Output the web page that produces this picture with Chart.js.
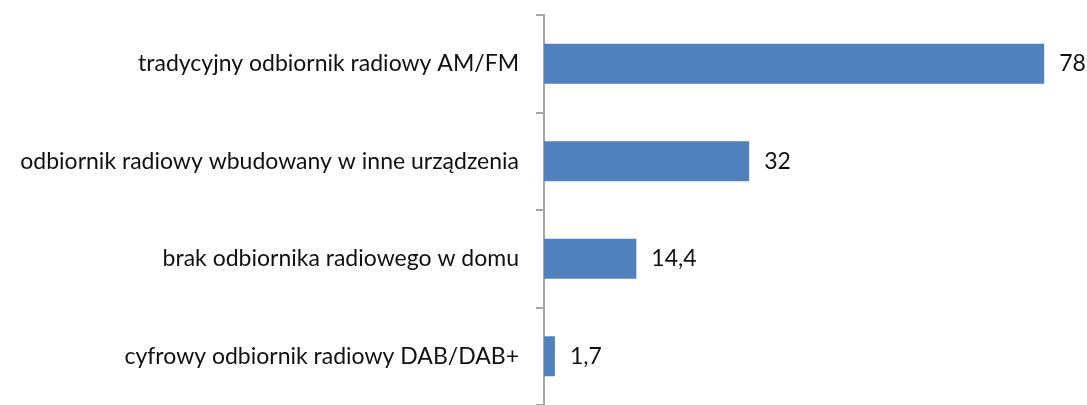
<!DOCTYPE html>
<html><head><meta charset="utf-8">
<script src="https://cdn.jsdelivr.net/npm/chart.js@4"></script>
<style>html,body{margin:0;padding:0;background:#fff}#wrap{width:1087px;height:405px}</style>
</head><body><div id="wrap"><canvas id="c"></canvas></div>
<script>
const categories = ["tradycyjny odbiornik radiowy AM/FM","odbiornik radiowy wbudowany w inne urządzenia","brak odbiornika radiowego w domu","cyfrowy odbiornik radiowy DAB/DAB+"];
const values = [78, 32, 14.4, 1.7];
const FONT = "Lato";
const fmt = v => String(v).replace('.', ',');
const valueLabels = {
  id: 'valueLabels',
  afterDatasetsDraw(chart) {
    const ctx = chart.ctx;
    const meta = chart.getDatasetMeta(0);
    ctx.save();
    ctx.font = "23px " + FONT;
    ctx.fillStyle = "#111";
    ctx.textBaseline = "middle";
    ctx.textAlign = "left";
    meta.data.forEach((bar, i) => {
      ctx.fillText(fmt(values[i]), bar.x + 15, bar.y);
    });
    ctx.restore();
  }
};
new Chart(document.getElementById('c'), {
  type: 'bar',
  data: { labels: categories, datasets: [{ data: values, backgroundColor: '#4F81BD', borderWidth: 0, barPercentage: 0.41, categoryPercentage: 1 }] },
  options: {
    indexAxis: 'y', responsive: true, maintainAspectRatio: false, animation: false,
    layout: { padding: { top: 15, right: 30, bottom: 0, left: 0 } },
    plugins: { legend: { display: false }, tooltip: { enabled: false } },
    scales: {
      x: { display: false, min: 0, max: 80 },
      y: {
        afterFit(s) { s.width = 544; s.paddingTop = 0; s.paddingBottom = 0; },
        border: { display: true, color: '#A6A6A6', width: 2 },
        grid: { display: true, drawOnChartArea: false, drawTicks: true, tickLength: 8, color: '#A6A6A6', lineWidth: 2, offset: true },
        ticks: { color: '#111', font: { family: FONT, size: 23 }, padding: 17 }
      }
    }
  },
  plugins: [valueLabels]
});
</script></body></html>
